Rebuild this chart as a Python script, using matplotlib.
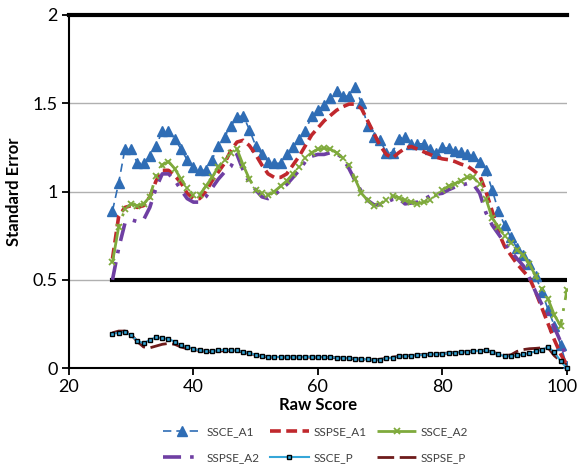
import numpy as np
import matplotlib
matplotlib.use("Agg")
import matplotlib.pyplot as plt
import matplotlib.transforms as mtransforms

plt.rcParams['font.family'] = ['Lato', 'DejaVu Sans']

rawScore = list(range(27, 101))

ssceA1 = [0.89, 1.05, 1.24, 1.24, 1.16, 1.16, 1.20, 1.26, 1.34, 1.34,
          1.30, 1.24, 1.18, 1.14, 1.12, 1.12, 1.18, 1.26, 1.31, 1.37,
          1.42, 1.43, 1.35, 1.26, 1.21, 1.17, 1.16, 1.16, 1.21, 1.25,
          1.30, 1.34, 1.43, 1.46, 1.49, 1.53, 1.57, 1.54, 1.54, 1.59,
          1.50, 1.37, 1.31, 1.29, 1.22, 1.22, 1.30, 1.31, 1.27, 1.27,
          1.27, 1.24, 1.22, 1.25, 1.245, 1.23, 1.225, 1.21, 1.20, 1.17,
          1.12, 1.01, 0.89, 0.81, 0.74, 0.68, 0.64, 0.59, 0.52, 0.43,
          0.33, 0.24, 0.13, 0.01]

sspseA1 = [0.62, 0.86, 0.91, 0.92, 0.91, 0.92, 0.97, 1.06, 1.12, 1.12,
           1.09, 1.05, 0.99, 0.96, 0.96, 1.00, 1.06, 1.11, 1.16, 1.23,
           1.28, 1.29, 1.26, 1.21, 1.15, 1.10, 1.08, 1.08, 1.10, 1.15,
           1.20, 1.26, 1.32, 1.36, 1.40, 1.43, 1.46, 1.48, 1.495, 1.495,
           1.47, 1.40, 1.33, 1.26, 1.21, 1.19, 1.22, 1.245, 1.255, 1.24,
           1.225, 1.21, 1.195, 1.185, 1.18, 1.17, 1.155, 1.145, 1.12, 1.09,
           1.00, 0.89, 0.77, 0.69, 0.64, 0.59, 0.55, 0.51, 0.43, 0.34,
           0.25, 0.16, 0.08, 0.02]

ssceA2 = [0.60, 0.80, 0.90, 0.93, 0.92, 0.93, 0.97, 1.09, 1.15, 1.17,
          1.13, 1.07, 1.02, 0.98, 0.98, 1.03, 1.08, 1.14, 1.18, 1.22,
          1.24, 1.15, 1.07, 1.01, 0.99, 0.98, 1.00, 1.03, 1.06, 1.10,
          1.14, 1.19, 1.22, 1.24, 1.245, 1.24, 1.22, 1.19, 1.15, 1.07,
          0.99, 0.95, 0.92, 0.93, 0.95, 0.975, 0.965, 0.95, 0.94, 0.93,
          0.94, 0.95, 0.98, 1.01, 1.03, 1.045, 1.06, 1.08, 1.08, 1.04,
          0.96, 0.85, 0.80, 0.75, 0.71, 0.67, 0.64, 0.59, 0.52, 0.45,
          0.39, 0.30, 0.24, 0.44]

sspseA2 = [0.50, 0.68, 0.82, 0.84, 0.83, 0.84, 0.91, 1.02, 1.10, 1.10,
           1.065, 1.01, 0.96, 0.94, 0.94, 0.97, 1.02, 1.07, 1.11, 1.14,
           1.21, 1.12, 1.05, 1.01, 0.97, 0.96, 0.98, 1.01, 1.04, 1.08,
           1.12, 1.17, 1.20, 1.21, 1.21, 1.22, 1.215, 1.19, 1.13, 1.06,
           1.00, 0.95, 0.925, 0.925, 0.94, 0.955, 0.96, 0.93, 0.935, 0.94,
           0.955, 0.975, 0.985, 0.99, 1.01, 1.025, 1.035, 1.045, 1.04, 0.99,
           0.88, 0.81, 0.76, 0.71, 0.66, 0.62, 0.58, 0.51, 0.43, 0.36,
           0.31, 0.23, 0.15, 0.05]

ssceP = [0.195, 0.20, 0.205, 0.185, 0.155, 0.14, 0.16, 0.175, 0.17, 0.165,
         0.15, 0.13, 0.12, 0.11, 0.10, 0.098, 0.098, 0.10, 0.105, 0.10,
         0.10, 0.092, 0.085, 0.076, 0.07, 0.064, 0.063, 0.063, 0.064, 0.064,
         0.064, 0.064, 0.064, 0.064, 0.062, 0.061, 0.06, 0.058, 0.056, 0.054,
         0.052, 0.049, 0.046, 0.048, 0.055, 0.06, 0.066, 0.069, 0.071, 0.074,
         0.076, 0.078, 0.079, 0.082, 0.085, 0.088, 0.09, 0.093, 0.096, 0.099,
         0.10, 0.09, 0.078, 0.068, 0.068, 0.072, 0.078, 0.086, 0.095, 0.105,
         0.12, 0.09, 0.04, 0.0]

sspseP = [0.20, 0.21, 0.21, 0.19, 0.15, 0.12, 0.115, 0.125, 0.135, 0.14,
          0.135, 0.12, 0.11, 0.105, 0.10, 0.095, 0.093, 0.095, 0.10, 0.10,
          0.098, 0.09, 0.083, 0.075, 0.068, 0.063, 0.062, 0.062, 0.063, 0.063,
          0.063, 0.063, 0.062, 0.062, 0.061, 0.06, 0.059, 0.057, 0.055, 0.053,
          0.051, 0.048, 0.046, 0.05, 0.056, 0.062, 0.067, 0.07, 0.072, 0.075,
          0.077, 0.079, 0.08, 0.083, 0.086, 0.089, 0.091, 0.094, 0.097, 0.099,
          0.10, 0.092, 0.08, 0.072, 0.075, 0.095, 0.105, 0.11, 0.112, 0.115,
          0.115, 0.07, 0.04, 0.02]

# cut-off lines (not in legend)
cutX = [27, 100]
cutY = [0.5, 0.5]
topX = [20, 100]
topY = [2, 2]

fig = plt.figure(figsize=(5.79, 4.66), dpi=100)
ax = fig.add_axes([0.119, 0.21, 0.860, 0.758])

ax.set_xlim(20, 100)
ax.set_ylim(0, 2)
ax.set_xticks([20, 40, 60, 80, 100])
ax.set_yticks([0, 0.5, 1, 1.5, 2])
ax.set_yticklabels(["0", "0.5", "1", "1.5", "2"])
ax.yaxis.grid(True, color="#b0b0b0", linewidth=1.0)
ax.set_axisbelow(True)
for s in ["top", "right"]:
    ax.spines[s].set_visible(False)
for s in ["left", "bottom"]:
    ax.spines[s].set_linewidth(1.5)
    ax.spines[s].set_color("black")
ax.tick_params(axis="both", direction="out", length=5, width=1.3, labelsize=13, pad=3)

# keep "100" inside the canvas
lastLabel = ax.get_xticklabels()[-1]
lastLabel.set_transform(lastLabel.get_transform() +
                        mtransforms.ScaledTranslation(-5 / 100, 0, fig.dpi_scale_trans))

ax.plot(topX, topY, color="black", linewidth=3, clip_on=False, zorder=3)
ax.plot(cutX, cutY, color="black", linewidth=3, zorder=3)

h1, = ax.plot(rawScore, ssceA1, color="#2f6db5", linestyle=(0, (5, 3)), linewidth=1.2,
              marker="^", markersize=7.5, label="SSCE_A1", zorder=4)
h2, = ax.plot(rawScore, sspseA1, color="#c0282d", linestyle=(0, (3, 1.5)), linewidth=2.6,
              label="SSPSE_A1", zorder=5)
h3, = ax.plot(rawScore, ssceA2, color="#7faa3c", linestyle=(0, (14, 3, 1, 3)), linewidth=2,
              marker="x", markersize=5, markeredgewidth=1.3, label="SSCE_A2", zorder=6)
h4, = ax.plot(rawScore, sspseA2, color="#6f3fa3", linestyle=(0, (5, 2.5, 1, 2.5)), linewidth=2.6,
              label="SSPSE_A2", zorder=5)
h6, = ax.plot(rawScore, sspseP, color="#6e1b1b", linestyle=(0, (6, 2)), linewidth=2,
              label="SSPSE_P", zorder=4)
h5, = ax.plot(rawScore, ssceP, color="#35a6d8", linestyle="-", linewidth=1.5,
              marker="s", markersize=3.5, markerfacecolor="#35a6d8", markeredgecolor="black",
              markeredgewidth=1.0, label="SSCE_P", zorder=5, clip_on=False)

ax.set_xlabel("Raw Score", fontsize=12, fontweight="bold", labelpad=1)
ax.set_ylabel("Standard Error", fontsize=12, fontweight="bold", labelpad=8)

handles = [h1, h4, h2, h5, h3, h6]
leg = fig.legend(handles=handles, labels=[h.get_label() for h in handles], ncol=3,
                 loc="center", bbox_to_anchor=(0.545, 0.046), frameon=False, fontsize=8.5,
                 handlelength=3.3, columnspacing=0.9, handletextpad=0.4, labelspacing=1.2,
                 borderpad=0.2)
for t in leg.get_texts():
    t.set_color("#404040")

fig.savefig("out.png", dpi=100)
